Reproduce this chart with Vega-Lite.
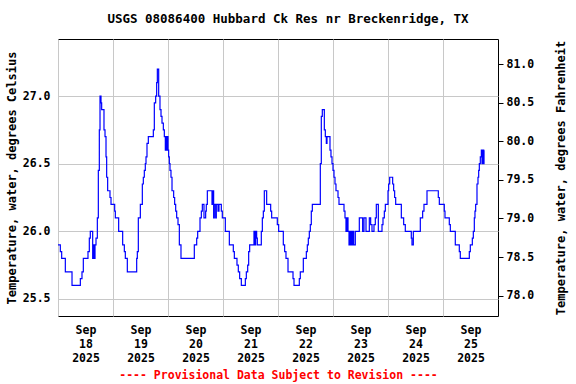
{
  "$schema": "https://vega.github.io/schema/vega-lite/v6.json",
  "width": 440,
  "height": 277,
  "autosize": {"type": "none"},
  "padding": {"left": 58, "top": 39, "right": 78, "bottom": 68},
  "background": "white",
  "config": {
    "font": "DejaVu Sans Mono",
    "view": {"stroke": "black", "strokeWidth": 1},
    "axis": {
      "labelFont": "DejaVu Sans Mono", "labelFontWeight": "bold", "labelFontSize": 11.5, "labelColor": "black",
      "titleFont": "DejaVu Sans Mono", "titleFontWeight": "bold", "titleFontSize": 12, "titleColor": "black",
      "gridColor": "#c8c8c8", "gridWidth": 1, "domain": false, "ticks": false, "tickSize": 0
    }
  },
  "title": {"text": "USGS 08086400 Hubbard Ck Res nr Breckenridge, TX", "font": "DejaVu Sans Mono", "fontSize": 12.5, "fontWeight": "bold", "color": "black", "offset": 14, "dx": 10, "anchor": "middle"},
  "resolve": {"scale": {"y": "independent"}},
  "layer": [
    {
      "data": {"values": [
        {"t": "2025-09-18T00:00", "c": 25.9}, {"t": "2025-09-18T01:01", "c": 25.85}, {"t": "2025-09-18T01:36", "c": 25.8}, {"t": "2025-09-18T03:12", "c": 25.7}, {"t": "2025-09-18T06:07", "c": 25.6}, {"t": "2025-09-18T09:45", "c": 25.65}, {"t": "2025-09-18T10:28", "c": 25.7}, {"t": "2025-09-18T11:03", "c": 25.8}, {"t": "2025-09-18T13:05", "c": 25.85}, {"t": "2025-09-18T13:40", "c": 25.95}, {"t": "2025-09-18T14:06", "c": 26.0}, {"t": "2025-09-18T15:08", "c": 25.8}, {"t": "2025-09-18T15:34", "c": 25.9}, {"t": "2025-09-18T15:51", "c": 25.8}, {"t": "2025-09-18T16:09", "c": 25.9}, {"t": "2025-09-18T16:35", "c": 25.95}, {"t": "2025-09-18T17:10", "c": 26.1}, {"t": "2025-09-18T17:36", "c": 26.45}, {"t": "2025-09-18T18:02", "c": 26.75}, {"t": "2025-09-18T18:20", "c": 27.0}, {"t": "2025-09-18T18:46", "c": 26.95}, {"t": "2025-09-18T19:03", "c": 26.9}, {"t": "2025-09-18T20:04", "c": 26.75}, {"t": "2025-09-18T20:31", "c": 26.7}, {"t": "2025-09-18T20:57", "c": 26.55}, {"t": "2025-09-18T21:14", "c": 26.4}, {"t": "2025-09-18T21:40", "c": 26.3}, {"t": "2025-09-18T22:41", "c": 26.25}, {"t": "2025-09-18T23:08", "c": 26.2},
        {"t": "2025-09-19T00:44", "c": 26.15}, {"t": "2025-09-19T01:01", "c": 26.1}, {"t": "2025-09-19T02:28", "c": 26.0}, {"t": "2025-09-19T04:13", "c": 25.9}, {"t": "2025-09-19T04:57", "c": 25.85}, {"t": "2025-09-19T05:23", "c": 25.8}, {"t": "2025-09-19T06:15", "c": 25.7}, {"t": "2025-09-19T10:20", "c": 25.8}, {"t": "2025-09-19T10:37", "c": 25.85}, {"t": "2025-09-19T11:03", "c": 26.1}, {"t": "2025-09-19T11:56", "c": 26.2}, {"t": "2025-09-19T12:48", "c": 26.35}, {"t": "2025-09-19T13:14", "c": 26.4}, {"t": "2025-09-19T13:40", "c": 26.45}, {"t": "2025-09-19T14:06", "c": 26.5}, {"t": "2025-09-19T14:24", "c": 26.55}, {"t": "2025-09-19T14:50", "c": 26.65}, {"t": "2025-09-19T15:25", "c": 26.7}, {"t": "2025-09-19T17:36", "c": 26.75}, {"t": "2025-09-19T18:02", "c": 26.95}, {"t": "2025-09-19T18:37", "c": 27.0}, {"t": "2025-09-19T19:03", "c": 27.1}, {"t": "2025-09-19T19:21", "c": 27.2}, {"t": "2025-09-19T19:56", "c": 27.0}, {"t": "2025-09-19T20:30", "c": 26.9}, {"t": "2025-09-19T20:57", "c": 26.85}, {"t": "2025-09-19T21:23", "c": 26.8}, {"t": "2025-09-19T21:58", "c": 26.75}, {"t": "2025-09-19T22:24", "c": 26.7}, {"t": "2025-09-19T22:50", "c": 26.6}, {"t": "2025-09-19T23:07", "c": 26.7}, {"t": "2025-09-19T23:25", "c": 26.6}, {"t": "2025-09-19T23:42", "c": 26.7},
        {"t": "2025-09-20T00:00", "c": 26.6}, {"t": "2025-09-20T00:17", "c": 26.55}, {"t": "2025-09-20T00:35", "c": 26.5}, {"t": "2025-09-20T00:52", "c": 26.45}, {"t": "2025-09-20T01:18", "c": 26.4}, {"t": "2025-09-20T01:45", "c": 26.3}, {"t": "2025-09-20T02:28", "c": 26.25}, {"t": "2025-09-20T02:54", "c": 26.2}, {"t": "2025-09-20T03:21", "c": 26.15}, {"t": "2025-09-20T03:47", "c": 26.1}, {"t": "2025-09-20T04:22", "c": 26.05}, {"t": "2025-09-20T04:57", "c": 25.9}, {"t": "2025-09-20T05:40", "c": 25.8}, {"t": "2025-09-20T11:29", "c": 25.9}, {"t": "2025-09-20T12:31", "c": 25.95}, {"t": "2025-09-20T12:57", "c": 26.0}, {"t": "2025-09-20T13:58", "c": 26.1}, {"t": "2025-09-20T14:33", "c": 26.15}, {"t": "2025-09-20T14:59", "c": 26.2}, {"t": "2025-09-20T15:42", "c": 26.1}, {"t": "2025-09-20T16:26", "c": 26.15}, {"t": "2025-09-20T16:43", "c": 26.2}, {"t": "2025-09-20T17:10", "c": 26.3}, {"t": "2025-09-20T19:12", "c": 26.2}, {"t": "2025-09-20T19:38", "c": 26.3}, {"t": "2025-09-20T19:55", "c": 26.1}, {"t": "2025-09-20T20:13", "c": 26.2}, {"t": "2025-09-20T20:48", "c": 26.1}, {"t": "2025-09-20T21:05", "c": 26.2}, {"t": "2025-09-20T21:49", "c": 26.15}, {"t": "2025-09-20T22:15", "c": 26.2}, {"t": "2025-09-20T23:16", "c": 26.15}, {"t": "2025-09-20T23:42", "c": 26.1},
        {"t": "2025-09-21T01:01", "c": 26.0}, {"t": "2025-09-21T02:46", "c": 25.9}, {"t": "2025-09-21T04:30", "c": 25.85}, {"t": "2025-09-21T04:57", "c": 25.8}, {"t": "2025-09-21T06:06", "c": 25.75}, {"t": "2025-09-21T06:41", "c": 25.7}, {"t": "2025-09-21T07:16", "c": 25.65}, {"t": "2025-09-21T08:00", "c": 25.6}, {"t": "2025-09-21T09:45", "c": 25.65}, {"t": "2025-09-21T10:11", "c": 25.7}, {"t": "2025-09-21T10:46", "c": 25.75}, {"t": "2025-09-21T11:12", "c": 25.85}, {"t": "2025-09-21T11:38", "c": 25.9}, {"t": "2025-09-21T13:31", "c": 26.0}, {"t": "2025-09-21T13:49", "c": 25.9}, {"t": "2025-09-21T14:15", "c": 26.0}, {"t": "2025-09-21T14:41", "c": 25.95}, {"t": "2025-09-21T14:59", "c": 25.9}, {"t": "2025-09-21T16:43", "c": 26.0}, {"t": "2025-09-21T17:10", "c": 26.1}, {"t": "2025-09-21T17:36", "c": 26.15}, {"t": "2025-09-21T18:02", "c": 26.3}, {"t": "2025-09-21T19:03", "c": 26.2}, {"t": "2025-09-21T20:48", "c": 26.15}, {"t": "2025-09-21T21:14", "c": 26.1}, {"t": "2025-09-21T23:42", "c": 26.05},
        {"t": "2025-09-22T00:17", "c": 26.0}, {"t": "2025-09-22T02:19", "c": 25.9}, {"t": "2025-09-22T02:54", "c": 25.85}, {"t": "2025-09-22T03:29", "c": 25.8}, {"t": "2025-09-22T04:22", "c": 25.7}, {"t": "2025-09-22T06:33", "c": 25.65}, {"t": "2025-09-22T06:59", "c": 25.6}, {"t": "2025-09-22T09:18", "c": 25.65}, {"t": "2025-09-22T09:44", "c": 25.7}, {"t": "2025-09-22T11:03", "c": 25.8}, {"t": "2025-09-22T12:22", "c": 25.85}, {"t": "2025-09-22T12:48", "c": 25.9}, {"t": "2025-09-22T13:14", "c": 25.95}, {"t": "2025-09-22T13:40", "c": 26.0}, {"t": "2025-09-22T14:06", "c": 26.05}, {"t": "2025-09-22T14:32", "c": 26.15}, {"t": "2025-09-22T14:59", "c": 26.2}, {"t": "2025-09-22T18:28", "c": 26.5}, {"t": "2025-09-22T18:54", "c": 26.85}, {"t": "2025-09-22T19:20", "c": 26.9}, {"t": "2025-09-22T20:13", "c": 26.75}, {"t": "2025-09-22T20:39", "c": 26.7}, {"t": "2025-09-22T21:05", "c": 26.65}, {"t": "2025-09-22T21:23", "c": 26.7}, {"t": "2025-09-22T22:41", "c": 26.6}, {"t": "2025-09-22T23:07", "c": 26.55}, {"t": "2025-09-22T23:34", "c": 26.5},
        {"t": "2025-09-23T00:00", "c": 26.45}, {"t": "2025-09-23T00:26", "c": 26.4}, {"t": "2025-09-23T00:52", "c": 26.35}, {"t": "2025-09-23T01:18", "c": 26.3}, {"t": "2025-09-23T02:11", "c": 26.25}, {"t": "2025-09-23T02:37", "c": 26.2}, {"t": "2025-09-23T04:48", "c": 26.15}, {"t": "2025-09-23T05:14", "c": 26.1}, {"t": "2025-09-23T05:40", "c": 26.0}, {"t": "2025-09-23T06:06", "c": 26.1}, {"t": "2025-09-23T06:33", "c": 26.0}, {"t": "2025-09-23T06:59", "c": 25.9}, {"t": "2025-09-23T07:16", "c": 26.0}, {"t": "2025-09-23T07:42", "c": 25.9}, {"t": "2025-09-23T08:09", "c": 26.0}, {"t": "2025-09-23T08:26", "c": 25.9}, {"t": "2025-09-23T08:43", "c": 26.0}, {"t": "2025-09-23T09:01", "c": 25.9}, {"t": "2025-09-23T09:44", "c": 26.0}, {"t": "2025-09-23T11:29", "c": 26.1}, {"t": "2025-09-23T12:56", "c": 26.0}, {"t": "2025-09-23T13:31", "c": 26.1}, {"t": "2025-09-23T14:24", "c": 26.0}, {"t": "2025-09-23T15:51", "c": 26.1}, {"t": "2025-09-23T16:26", "c": 26.05}, {"t": "2025-09-23T17:01", "c": 26.0}, {"t": "2025-09-23T17:53", "c": 26.05}, {"t": "2025-09-23T18:28", "c": 26.1}, {"t": "2025-09-23T18:54", "c": 26.2}, {"t": "2025-09-23T19:47", "c": 26.0}, {"t": "2025-09-23T21:23", "c": 26.05}, {"t": "2025-09-23T21:49", "c": 26.1}, {"t": "2025-09-23T22:24", "c": 26.15}, {"t": "2025-09-23T22:50", "c": 26.2},
        {"t": "2025-09-24T00:00", "c": 26.3}, {"t": "2025-09-24T00:17", "c": 26.35}, {"t": "2025-09-24T00:44", "c": 26.4}, {"t": "2025-09-24T02:02", "c": 26.35}, {"t": "2025-09-24T02:28", "c": 26.3}, {"t": "2025-09-24T02:54", "c": 26.25}, {"t": "2025-09-24T03:21", "c": 26.2}, {"t": "2025-09-24T05:49", "c": 26.1}, {"t": "2025-09-24T06:50", "c": 26.05}, {"t": "2025-09-24T07:33", "c": 26.0}, {"t": "2025-09-24T10:10", "c": 25.95}, {"t": "2025-09-24T10:28", "c": 25.9}, {"t": "2025-09-24T11:03", "c": 26.0}, {"t": "2025-09-24T14:06", "c": 26.1}, {"t": "2025-09-24T15:07", "c": 26.15}, {"t": "2025-09-24T15:42", "c": 26.2}, {"t": "2025-09-24T17:01", "c": 26.3}, {"t": "2025-09-24T21:57", "c": 26.25}, {"t": "2025-09-24T22:24", "c": 26.2},
        {"t": "2025-09-25T00:34", "c": 26.15}, {"t": "2025-09-25T00:52", "c": 26.1}, {"t": "2025-09-25T02:45", "c": 26.05}, {"t": "2025-09-25T03:12", "c": 26.0}, {"t": "2025-09-25T05:22", "c": 25.9}, {"t": "2025-09-25T07:07", "c": 25.85}, {"t": "2025-09-25T07:33", "c": 25.8}, {"t": "2025-09-25T11:29", "c": 25.85}, {"t": "2025-09-25T11:55", "c": 25.9}, {"t": "2025-09-25T12:48", "c": 25.95}, {"t": "2025-09-25T13:14", "c": 26.0}, {"t": "2025-09-25T13:40", "c": 26.1}, {"t": "2025-09-25T13:57", "c": 26.15}, {"t": "2025-09-25T14:15", "c": 26.2}, {"t": "2025-09-25T14:50", "c": 26.35}, {"t": "2025-09-25T15:16", "c": 26.4}, {"t": "2025-09-25T15:34", "c": 26.45}, {"t": "2025-09-25T15:51", "c": 26.5}, {"t": "2025-09-25T16:17", "c": 26.55}, {"t": "2025-09-25T16:44", "c": 26.6}, {"t": "2025-09-25T17:01", "c": 26.5}, {"t": "2025-09-25T17:19", "c": 26.6}, {"t": "2025-09-25T17:36", "c": 26.5}, {"t": "2025-09-25T17:54", "c": 26.6}, {"t": "2025-09-25T18:02", "c": 26.6}
      ]},
      "mark": {"type": "line", "interpolate": "step-after", "color": "#0000ff", "strokeWidth": 1.2},
      "encoding": {
        "x": {
          "field": "t", "type": "temporal",
          "scale": {"domain": [{"year": 2025, "month": 9, "date": 18}, {"year": 2025, "month": 9, "date": 26}]},
          "axis": {
            "values": [{"year": 2025, "month": 9, "date": 18}, {"year": 2025, "month": 9, "date": 19}, {"year": 2025, "month": 9, "date": 20}, {"year": 2025, "month": 9, "date": 21}, {"year": 2025, "month": 9, "date": 22}, {"year": 2025, "month": 9, "date": 23}, {"year": 2025, "month": 9, "date": 24}, {"year": 2025, "month": 9, "date": 25}],
            "labelExpr": "[timeFormat(datum.value, '%b'), timeFormat(datum.value, '%d'), timeFormat(datum.value, '%Y')]",
            "labelOffset": 27.5, "labelPadding": 8, "labelLineHeight": 14, "labelFlush": false, "labelOverlap": false, "labelAlign": "center",
            "grid": true,
            "title": "---- Provisional Data Subject to Revision ----", "titleColor": "#ff0000", "titleFontSize": 11.5, "titlePadding": 6
          }
        },
        "y": {
          "field": "c", "type": "quantitative",
          "scale": {"domain": [25.374, 27.422], "nice": false, "zero": false},
          "axis": {"values": [25.5, 26.0, 26.5, 27.0], "format": ".1f", "grid": true, "labelPadding": 8, "title": "Temperature, water, degrees Celsius", "titlePadding": 4}
        }
      }
    },
    {
      "data": {"values": [{"f": 78.0}, {"f": 81.0}]},
      "mark": {"type": "rule", "opacity": 0},
      "encoding": {
        "y": {
          "field": "f", "type": "quantitative",
          "scale": {"domain": [77.736, 81.324], "nice": false, "zero": false},
          "axis": {"orient": "right", "values": [78.0, 78.5, 79.0, 79.5, 80.0, 80.5, 81.0], "format": ".1f", "grid": false, "ticks": true, "tickSize": 5, "tickColor": "black", "labelPadding": 3, "title": "Temperature, water, degrees Fahrenheit", "titleAngle": 270, "titleBaseline": "top", "titlePadding": 22}
        }
      }
    }
  ]
}
